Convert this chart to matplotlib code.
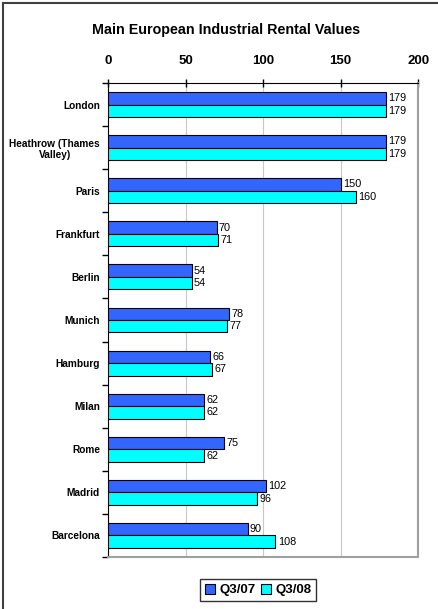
import numpy as np
import matplotlib.pyplot as plt
from matplotlib.lines import Line2D

plt.rcParams['font.family'] = ['Liberation Sans', 'DejaVu Sans']

# Rental values by market, top to bottom
cities = ['London', 'Heathrow (Thames\nValley)', 'Paris', 'Frankfurt', 'Berlin', 'Munich',
          'Hamburg', 'Milan', 'Rome', 'Madrid', 'Barcelona']
q3_07 = [179, 179, 150, 70, 54, 78, 66, 62, 75, 102, 90]
q3_08 = [179, 179, 160, 71, 54, 77, 67, 62, 62, 96, 108]
x_ticks = [0, 50, 100, 150, 200]

fig = plt.figure(figsize=(4.38, 6.09), dpi=100)
ax = fig.add_axes([0.2466, 0.0854, 0.708, 0.7783])

n = len(cities)
y = np.arange(n)
h = 0.29
ax.barh(y - h / 2, q3_07, height=h, color='#3366FF', edgecolor='black', linewidth=0.8, label='Q3/07', zorder=3)
ax.barh(y + h / 2, q3_08, height=h, color='#00FFFF', edgecolor='black', linewidth=0.8, label='Q3/08', zorder=3)

for yi, v in zip(y, q3_07):
    ax.text(v + 1.5, yi - h / 2, str(v), va='center', ha='left', fontsize=7.8)
for yi, v in zip(y, q3_08):
    ax.text(v + 1.5, yi + h / 2, str(v), va='center', ha='left', fontsize=7.8)

ax.set_ylim(n - 0.5, -0.5)
ax.set_xlim(0, 200)

# category labels centred in each band, ticks on the band boundaries
ax.set_yticks(np.arange(n + 1) - 0.5)
ax.set_yticklabels([])
ax.set_yticks(y, minor=True)
ax.set_yticklabels(cities, minor=True, fontsize=7.3, fontweight='bold', ha='right',
                   multialignment='center')
ax.tick_params(axis='y', which='minor', length=0, pad=5.8)
ax.tick_params(axis='y', which='major', direction='out', length=4, width=1)

ax.xaxis.tick_top()
ax.set_xticks(x_ticks)
ax.set_xticklabels([str(t) for t in x_ticks], fontsize=9.5, fontweight='bold')
ax.tick_params(axis='x', direction='inout', length=6, width=1, pad=8.5)
ax.grid(axis='x', color='#C8C8C8', linewidth=0.8, zorder=0)

ax.spines['top'].set_color('black')
ax.spines['left'].set_color('black')
ax.spines['right'].set_color('#A0A0A0')
ax.spines['bottom'].set_color('#A0A0A0')
ax.spines['right'].set_linewidth(1.5)
ax.spines['bottom'].set_linewidth(1.5)

fig.text(0.515, 0.951, 'Main European Industrial Rental Values', ha='center', va='center',
         fontsize=10.3, fontweight='bold')

leg = fig.legend(loc='center', bbox_to_anchor=(0.589, 0.031), ncol=2,
                 prop={'weight': 'bold', 'size': 9.5}, frameon=True, fancybox=False,
                 handlelength=0.8, handleheight=0.8, handletextpad=0.3, columnspacing=0.4,
                 borderpad=0.35, borderaxespad=0)
leg.get_frame().set_edgecolor('black')
leg.get_frame().set_linewidth(1)

# chart outline along the left and top
fig.add_artist(Line2D([3 / 438, 3 / 438], [0, 1 - 3 / 609], color='#404040', linewidth=1.5))
fig.add_artist(Line2D([3 / 438, 1], [1 - 3 / 609, 1 - 3 / 609], color='#404040', linewidth=1.5))

fig.savefig('out.png', dpi=100)
